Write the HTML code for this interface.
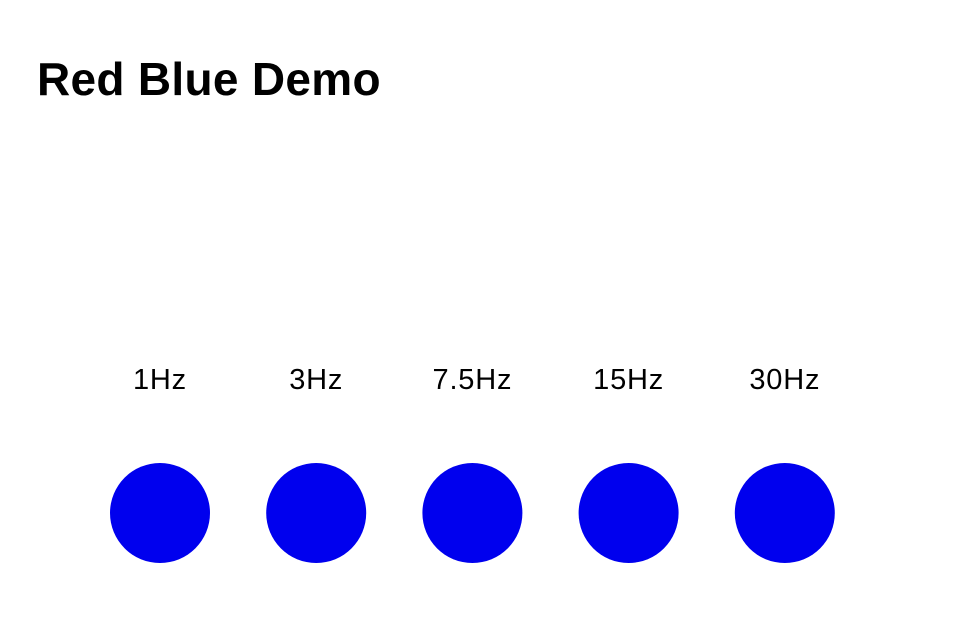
<!DOCTYPE html>
<html><head><meta charset="utf-8"><style>
body{margin:0;width:955px;height:637px;background:#fff;overflow:hidden;font-family:"Liberation Sans",sans-serif;}
h1{position:absolute;left:37px;top:53px;margin:0;font-size:46px;line-height:52px;font-weight:bold;color:#000;letter-spacing:0.3px;}
svg{position:absolute;left:0;top:0;}
</style></head><body>
<h1>Red Blue Demo</h1>
<svg id="c" width="955" height="637"></svg>
<script>
const labels = ["1Hz","3Hz","7.5Hz","15Hz","30Hz"];
const colors = ["#0000ee","#0000ee","#0000ee","#0000ee","#0000ee"];
const svg = document.getElementById('c');
const ns = "http://www.w3.org/2000/svg";
const x0 = 160, step = 156.2;
labels.forEach((l,i)=>{
  const cx = x0 + i*step;
  const t = document.createElementNS(ns,'text');
  t.setAttribute('x',cx); t.setAttribute('y',389);
  t.setAttribute('text-anchor','middle'); t.setAttribute('font-size','29');
  t.setAttribute('letter-spacing','0.8');
  t.setAttribute('font-family','Liberation Sans, sans-serif');
  t.textContent = l;
  
  
  svg.appendChild(t);
  const c = document.createElementNS(ns,'circle');
  c.setAttribute('cx',cx); c.setAttribute('cy',513); c.setAttribute('r',50);
  c.setAttribute('fill',colors[i]);
  
  
  svg.appendChild(c);
});
</script>
</body></html>
